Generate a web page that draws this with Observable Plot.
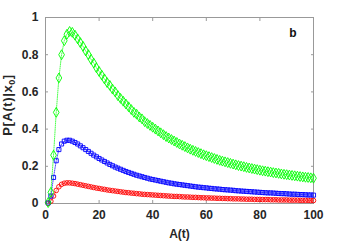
<!DOCTYPE html>
<html><head><meta charset="utf-8">
<script src="https://cdn.jsdelivr.net/npm/d3@7"></script>
<script src="https://cdn.jsdelivr.net/npm/@observablehq/plot@0.6"></script>
<style>body{margin:0;background:#fff}</style>
</head><body><div id="chart"></div>
<script>
const xTicks = [0, 20, 40, 60, 80, 100];
const yTicks = [0, 0.2, 0.4, 0.6, 0.8, 1];
const yTickLabels = ["0", "0.2", "0.4", "0.6", "0.8", "1"];
const panelLabel = "b";
const xLabel = "A(t)";
const green = [0.005,0.06,0.26,0.49,0.675,0.80,0.875,0.91,0.925,0.92,0.905,0.885,0.865,0.845,0.82,0.80,0.775,0.755,0.73,0.71,0.69,0.67,0.65,0.635,0.615,0.60,0.58,0.565,0.55,0.535,0.52,0.505,0.49,0.48,0.465,0.455,0.44,0.43,0.42,0.41,0.40,0.39,0.38,0.37,0.36,0.352,0.344,0.336,0.328,0.32,0.313,0.306,0.299,0.292,0.286,0.28,0.274,0.268,0.262,0.257,0.252,0.247,0.242,0.237,0.232,0.228,0.224,0.22,0.216,0.212,0.208,0.204,0.201,0.198,0.194,0.191,0.188,0.185,0.182,0.179,0.176,0.174,0.171,0.169,0.166,0.164,0.162,0.159,0.157,0.155,0.153,0.151,0.149,0.147,0.145,0.143,0.141,0.14,0.138,0.136];
const blue = [0.003,0.04,0.14,0.23,0.29,0.32,0.335,0.34,0.34,0.335,0.328,0.32,0.31,0.30,0.29,0.28,0.27,0.26,0.251,0.242,0.234,0.226,0.218,0.21,0.203,0.196,0.19,0.184,0.178,0.172,0.167,0.162,0.157,0.152,0.148,0.144,0.14,0.136,0.132,0.129,0.126,0.123,0.12,0.117,0.114,0.111,0.109,0.106,0.104,0.102,0.1,0.098,0.096,0.094,0.092,0.09,0.088,0.087,0.085,0.084,0.082,0.081,0.079,0.078,0.077,0.075,0.074,0.073,0.072,0.071,0.069,0.068,0.067,0.066,0.065,0.064,0.063,0.062,0.061,0.06,0.059,0.058,0.057,0.057,0.056,0.055,0.054,0.053,0.053,0.052,0.051,0.05,0.05,0.049,0.048,0.048,0.047,0.046,0.046,0.045];
const red = [0.001,0.012,0.04,0.07,0.09,0.103,0.109,0.111,0.111,0.109,0.107,0.104,0.101,0.098,0.095,0.092,0.089,0.086,0.083,0.081,0.078,0.076,0.073,0.071,0.069,0.067,0.065,0.063,0.061,0.059,0.058,0.056,0.055,0.053,0.052,0.05,0.049,0.048,0.047,0.046,0.045,0.044,0.043,0.042,0.041,0.04,0.039,0.038,0.038,0.037,0.036,0.035,0.035,0.034,0.033,0.033,0.032,0.031,0.031,0.03,0.03,0.029,0.029,0.028,0.028,0.027,0.027,0.026,0.026,0.025,0.025,0.025,0.024,0.024,0.023,0.023,0.023,0.022,0.022,0.022,0.021,0.021,0.021,0.02,0.02,0.02,0.019,0.019,0.019,0.019,0.018,0.018,0.018,0.018,0.017,0.017,0.017,0.017,0.016,0.016];
const xs = d3.range(1, 101);

const series = [
  {vals: red, color: "#ff0000", symbol: "circle", r: 2.3},
  {vals: blue, color: "#0000ff", symbol: "square", r: 2.3},
  {vals: green, color: "#00ff00", symbol: "diamond", r: 3}
];

const marks = [];
for (const s of series) {
  const data = xs.map((x, i) => ({x, y: s.vals[i]}));
  marks.push(Plot.line(data, {x: "x", y: "y", stroke: s.color, strokeWidth: 0.7, strokeDasharray: "1,1.2"}));
  marks.push(Plot.dot(data, {x: "x", y: "y", stroke: s.color, symbol: s.symbol, r: s.r, strokeWidth: 0.9, fill: "none"}));
}

const chart = Plot.plot({
  width: 346, height: 242,
  marginLeft: 45, marginRight: 33, marginTop: 17, marginBottom: 39,
  style: {fontFamily: "'Liberation Sans', Arial, sans-serif", fontSize: "12px", fontWeight: "bold", color: "#262626", background: "#fff"},
  x: {domain: [0, 100]},
  y: {domain: [0, 1]},
  marks: [
    Plot.frame({stroke: "#999", strokeWidth: 1}),
    Plot.axisX({anchor: "bottom", ticks: xTicks, tickSize: -3, tickPadding: 10, stroke: "#999", label: xLabel, labelAnchor: "center", labelOffset: 34, labelArrow: "none", fill: "#262626"}),
    Plot.axisX({anchor: "top", ticks: xTicks, tickSize: -3, stroke: "#999", tickFormat: () => "", label: null}),
    Plot.axisY({anchor: "left", ticks: yTicks, tickSize: -3, tickPadding: 10, stroke: "#999", tickFormat: (d, i) => yTickLabels[i], label: null, fill: "#262626"}),
    Plot.axisY({anchor: "right", ticks: yTicks, tickSize: -3, stroke: "#999", tickFormat: () => "", label: null}),
    ...marks,
    Plot.text([panelLabel], {text: d => d, frameAnchor: "top-right", dx: -17, dy: 11, fontWeight: "bold", fontSize: 12, fill: "#111"})
  ]
});
document.getElementById("chart").appendChild(chart);

// y-axis label with subscript
const svg = d3.select(chart);
const t = svg.append("text")
  .attr("transform", "translate(12,105) rotate(-90)")
  .attr("text-anchor", "middle")
  .attr("fill", "#262626")
  .style("font-weight", "bold").style("font-size", "13px").style("letter-spacing", "0.6px");
t.append("tspan").text("P[A(t)|x");
t.append("tspan").attr("dy", 3).style("font-size", "9px").text("0");
t.append("tspan").attr("dy", -3).text("]");
</script></body></html>
